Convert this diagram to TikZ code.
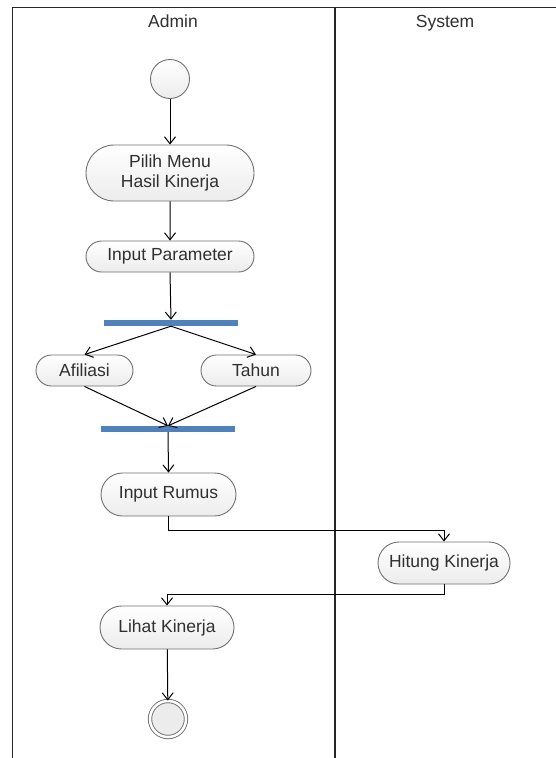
\documentclass[tikz,border=0pt]{standalone}
\usepackage{fontspec}
\setmainfont{Liberation Sans}
\usepackage{xcolor}
\usepackage{tikz}
\usetikzlibrary{arrows.meta,positioning,shapes.misc}
\definecolor{acborder}{RGB}{112,112,112}
\definecolor{acfill}{RGB}{236,236,236}
\definecolor{acbar}{RGB}{79,129,189}
\definecolor{actext}{RGB}{48,48,48}
\tikzset{
  acnode/.style={draw=acborder, line width=0.9pt, rounded rectangle, top color=white,
    bottom color=acfill, align=center, inner sep=2pt, text=actext,
    font=\fontsize{17.5}{20}\selectfont},
  acbarnode/.style={fill=acbar, rectangle, inner sep=0pt, minimum width=134pt, minimum height=6pt},
  acstart/.style={circle, draw=acborder, line width=0.9pt, top color=white,
    bottom color=acfill, minimum size=39pt, inner sep=0pt},
  acend/.style={circle, draw=acborder, line width=0.9pt, double=white, double distance=2.5pt,
    fill=acfill, minimum size=36pt, inner sep=0pt},
  aclane/.style={line width=1.3pt, draw=black!85},
  aclabel/.style={font=\fontsize{17.5}{20}\selectfont, text=actext, anchor=base},
  acarrow/.style={-{Straight Barb[length=7pt,width=11pt]}, line width=1pt, draw=black}
}

\begin{document}
\begin{tikzpicture}[x=1pt,y=-1pt]
  \useasboundingbox (0,0) rectangle (556,758);
  % lanes
  \draw[aclane] (12.5,758) -- (12.5,7.5) -- (556,7.5);
  \draw[aclane] (335,7.5) -- (335,758);
  \node[aclabel] (lAdmin) at (173,27) {Admin};
  \node[aclabel] (lSystem) at (445,27) {System};
  % activities
  \node[acstart] (aStart) at (170,79) {};
  \node[acnode, minimum width=172pt, minimum height=56pt] (aPilih) at (170,173) {Pilih Menu\\Hasil Kinerja};
  \node[acnode, minimum width=172pt, minimum height=31pt] (aParam) at (170,256.5) {Input Parameter};
  \node[acbarnode] (bFork) at (171,323) {};
  \node[acnode, minimum width=101pt, minimum height=31pt] (aAfiliasi) at (84.5,370.5) {Afiliasi};
  \node[acnode, minimum width=114pt, minimum height=31pt] (aTahun) at (256,370.5) {Tahun};
  \node[acbarnode] (bJoin) at (168,429) {};
  \node[acnode, minimum width=139pt, minimum height=43pt] (aRumus) at (168.5,494.5) {Input Rumus};
  \node[acnode, minimum width=136pt, minimum height=42pt] (aHitung) at (444,563) {Hitung Kinerja};
  \node[acnode, minimum width=138pt, minimum height=43pt] (aLihat) at (167,627.5) {Lihat Kinerja};
  \node[acend] (aEnd) at (168,719) {};
  % flows
  \draw[acarrow] (aStart) -- (aPilih);
  \draw[acarrow] (aPilih) -- (aParam);
  \draw[acarrow] (aParam.south) -- (bFork.north);
  \draw[acarrow] (bFork.south) -- (aAfiliasi.north);
  \draw[acarrow] (bFork.south) -- (aTahun.north);
  \draw[acarrow] (aAfiliasi.south) -- (bJoin.north);
  \draw[acarrow] (aTahun.south) -- (bJoin.north);
  \draw[acarrow] (bJoin.south) -- (aRumus.north);
  \draw[acarrow] (aRumus.south) -- ++(0,14) -| (aHitung.north);
  \draw[acarrow] (aHitung.south) -- ++(0,10) -| (aLihat.north);
  \draw[acarrow] (aLihat) -- (aEnd);
\end{tikzpicture}
\end{document}
